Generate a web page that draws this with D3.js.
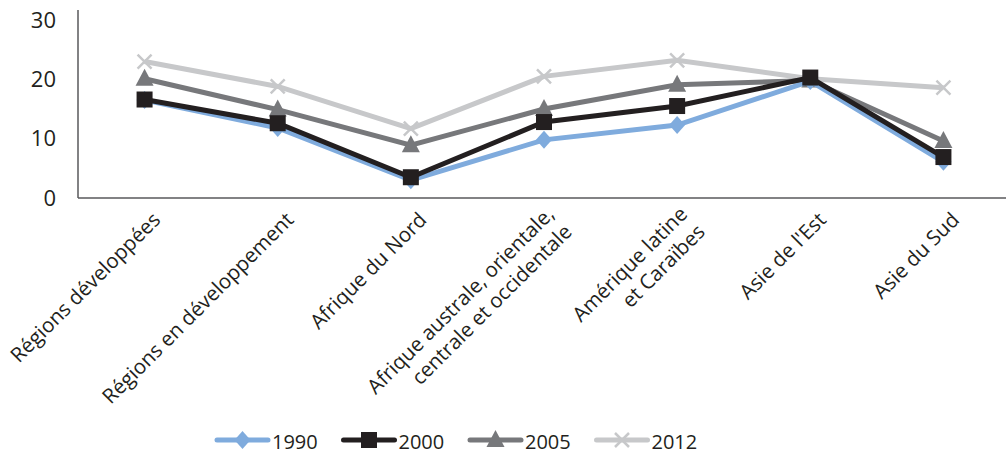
<!DOCTYPE html>
<html><head><meta charset="utf-8">
<script src="https://cdn.jsdelivr.net/npm/d3@7"></script>
<style>
html,body{margin:0;padding:0;background:#fff;}
svg text{font-family:"Open Sans",sans-serif;fill:#231F20;}
</style></head>
<body><svg id="c" width="1006" height="456"></svg>
<script>
const categories = [
  ["Régions développées"],
  ["Régions en développement"],
  ["Afrique du Nord"],
  ["Afrique australe, orientale,", "centrale et occidentale"],
  ["Amérique latine", "et Caraïbes"],
  ["Asie de l'Est"],
  ["Asie du Sud"]
];
const years = ["1990", "2000", "2005", "2012"];
const v1990 = [16.5, 11.8, 3.0, 9.8, 12.3, 19.7, 6.1];
const v2000 = [16.6, 12.6, 3.5, 12.8, 15.5, 20.3, 6.9];
const v2005 = [20.1, 14.9, 8.9, 15.0, 19.1, 19.8, 9.6];
const v2012 = [23.0, 18.8, 11.7, 20.5, 23.2, 20.1, 18.6];
const yTicks = [0, 10, 20, 30];

const colors = {"1990":"#7FABDD","2000":"#231F20","2005":"#77787B","2012":"#C7C8CA"};
const markers = {"1990":"diamond","2000":"square","2005":"triangle","2012":"x"};
const seriesData = {"1990":v1990,"2000":v2000,"2005":v2005,"2012":v2012};

const svg = d3.select("#c");
const x0 = 78, x1 = 1010, yBottom = 198, yTop = 20;
const x = d3.scaleBand().domain(d3.range(categories.length)).range([x0, x1]);
const y = d3.scaleLinear().domain([0, 30]).range([yBottom, yTop]);
const cx = i => x(i) + x.bandwidth()/2;

// axes lines
svg.append("line").attr("x1", x0).attr("x2", x0).attr("y1", 10).attr("y2", yBottom)
  .attr("stroke", "#58595B").attr("stroke-width", 1.5);
svg.append("line").attr("x1", x0).attr("x2", 1006).attr("y1", yBottom).attr("y2", yBottom)
  .attr("stroke", "#58595B").attr("stroke-width", 1.5);

// y tick labels
const yAxis = d3.axisLeft(y).tickValues(yTicks).tickSize(0).tickPadding(22);
const ya = svg.append("g").attr("transform", `translate(${x0},0)`).call(yAxis);
ya.select(".domain").remove();
ya.selectAll("text").style("font-size", "22px").style("font-family", '"Open Sans",sans-serif').attr("fill", "#231F20");

// x labels
const lab = svg.append("g");
categories.forEach((lines, i) => {
  const off = (lines.length - 1) * -8;
  const g = lab.append("g").attr("transform", `translate(${cx(i) + 12},${216}) rotate(-45)`);
  lines.forEach((t, k) => g.append("text").attr("text-anchor", "end")
    .attr("x", 0).attr("y", off + k * 25).attr("dy", "0.35em").style("font-size", "20.5px").text(t));
});

// marker drawer
function drawMarker(sel, type, color) {
  if (type === "diamond") {
    sel.append("path").attr("d", "M0,-9L8,0L0,9L-8,0Z").attr("fill", color);
  } else if (type === "square") {
    sel.append("rect").attr("x", -8).attr("y", -8).attr("width", 16).attr("height", 16).attr("fill", color);
  } else if (type === "triangle") {
    sel.append("path").attr("d", "M0,-10L9,7L-9,7Z").attr("fill", color);
  } else {
    sel.append("path").attr("d", "M-7,-7L7,7M-7,7L7,-7").attr("stroke", color).attr("stroke-width", 2.5).attr("fill", "none");
  }
}

const line = d3.line().x((d, i) => cx(i)).y(d => y(d));
const drawOrder = ["2012", "2005", "1990", "2000"];
drawOrder.forEach(yr => {
  const g = svg.append("g");
  g.append("path").datum(seriesData[yr]).attr("d", line).attr("fill", "none")
    .attr("stroke", colors[yr]).attr("stroke-width", 5).attr("stroke-linejoin", "miter");
  seriesData[yr].forEach((v, i) => {
    const m = g.append("g").attr("transform", `translate(${cx(i)},${y(v)})`);
    drawMarker(m, markers[yr], colors[yr]);
  });
});

// legend
const leg = svg.append("g");
years.forEach((yr, k) => {
  const lx = 217 + k * 126.5, ly = 440;
  const g = leg.append("g").attr("transform", `translate(${lx},${ly})`);
  g.append("line").attr("x1", 0).attr("x2", 51).attr("stroke", colors[yr]).attr("stroke-width", 5).attr("stroke-linecap", "round");
  const m = g.append("g").attr("transform", "translate(25.5,0)");
  drawMarker(m, markers[yr], colors[yr]);
  g.append("text").attr("x", 55).attr("y", 0).attr("dy", "0.45em").style("font-size", "20px").text(yr);
});
</script></body></html>
